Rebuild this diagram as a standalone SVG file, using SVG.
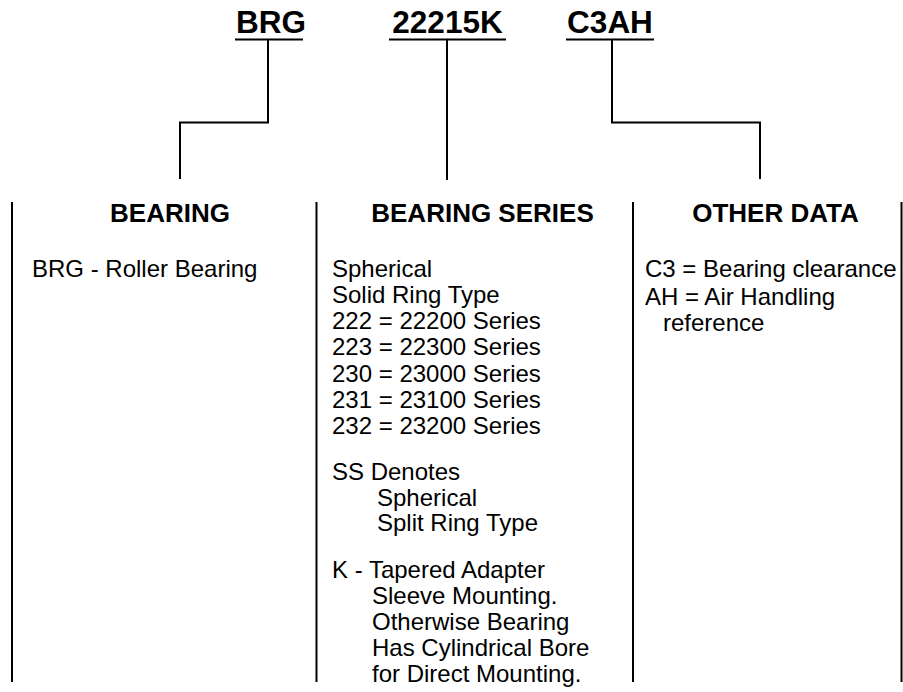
<svg xmlns="http://www.w3.org/2000/svg" width="903" height="692" viewBox="0 0 903 692">
<style>
  .t{font-family:"Liberation Sans",Arial,sans-serif;fill:#000}
  .top{font-size:31.5px;font-weight:bold}
  .hd{font-size:26px;font-weight:bold}
  .bd{font-size:24px}
  .ln{stroke:#000;stroke-width:2;fill:none}
</style>
<rect width="903" height="692" fill="#fff"/>
<g id="label-brg">
  <text class="t top" x="271" y="33" text-anchor="middle">BRG</text>
  <line class="ln" x1="235" y1="39.5" x2="303" y2="39.5"/>
</g>
<g id="label-22215k">
  <text class="t top" x="447.5" y="33" text-anchor="middle">22215K</text>
  <line class="ln" x1="389" y1="39.5" x2="506" y2="39.5"/>
</g>
<g id="label-c3ah">
  <text class="t top" x="610" y="33" text-anchor="middle">C3AH</text>
  <line class="ln" x1="566" y1="39.5" x2="654" y2="39.5"/>
</g>
<g id="connectors">
  <polyline class="ln" points="268,39.5 268,122.5 180,122.5 180,179"/>
  <line class="ln" x1="447" y1="39.5" x2="447" y2="180"/>
  <polyline class="ln" points="612,39.5 612,122.5 760,122.5 760,179"/>
</g>
<g id="dividers">
  <line class="ln" x1="12" y1="202" x2="12" y2="682"/>
  <line class="ln" x1="316.5" y1="202" x2="316.5" y2="682"/>
  <line class="ln" x1="633" y1="202" x2="633" y2="682"/>
  <line class="ln" x1="901.5" y1="202" x2="901.5" y2="682"/>
</g>
<g id="col-bearing">
  <text class="t hd" x="170" y="222" text-anchor="middle">BEARING</text>
  <text class="t bd" x="32" y="277">BRG - Roller Bearing</text>
</g>
<g id="col-series">
  <text class="t hd" x="482.5" y="222" text-anchor="middle">BEARING SERIES</text>
  <text class="t bd" x="332" y="277">Spherical</text>
  <text class="t bd" x="332" y="303">Solid Ring Type</text>
  <text class="t bd" x="332" y="329">222 = 22200 Series</text>
  <text class="t bd" x="332" y="355">223 = 22300 Series</text>
  <text class="t bd" x="332" y="381.5">230 = 23000 Series</text>
  <text class="t bd" x="332" y="407.5">231 = 23100 Series</text>
  <text class="t bd" x="332" y="433.5">232 = 23200 Series</text>
  <text class="t bd" x="332" y="480">SS Denotes</text>
  <text class="t bd" x="377" y="505.5">Spherical</text>
  <text class="t bd" x="377" y="531">Split Ring Type</text>
  <text class="t bd" x="332" y="578">K - Tapered Adapter</text>
  <text class="t bd" x="372" y="604">Sleeve Mounting.</text>
  <text class="t bd" x="372" y="630">Otherwise Bearing</text>
  <text class="t bd" x="372" y="656">Has Cylindrical Bore</text>
  <text class="t bd" x="372" y="682">for Direct Mounting.</text>
</g>
<g id="col-other">
  <text class="t hd" x="775.5" y="222" text-anchor="middle">OTHER DATA</text>
  <text class="t bd" x="645" y="277">C3 = Bearing clearance</text>
  <text class="t bd" x="645" y="305">AH = Air Handling</text>
  <text class="t bd" x="663" y="331">reference</text>
</g>
</svg>
